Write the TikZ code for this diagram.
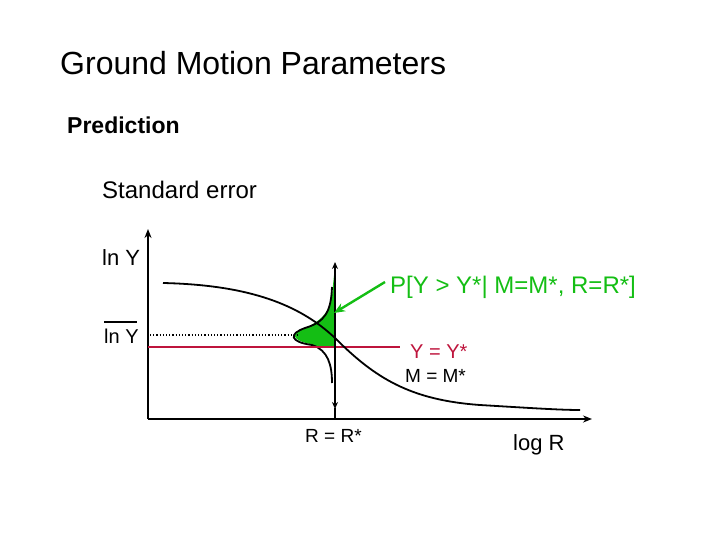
\documentclass[tikz,border=0pt]{standalone}
\usepackage{fontspec}
\usetikzlibrary{arrows.meta}
\setmainfont{Liberation Sans}
\definecolor{grn}{RGB}{20,190,20}
\definecolor{crim}{RGB}{190,20,60}
\begin{document}
\begin{tikzpicture}[x=1pt,y=-1pt,
  lab/.style={inner sep=0pt,anchor=west},
  ln/.style={line width=2pt},
  tip/.style={-{Stealth[length=9pt,width=7pt]}}]
\useasboundingbox (0,0) rectangle (720,540);
\node[lab,font=\fontsize{32}{34}\selectfont] (title) at (60,63) {Ground Motion Parameters};
\node[lab,font=\bfseries\fontsize{23}{26}\selectfont] (pred) at (67,125) {Prediction};
\node[lab,font=\fontsize{24}{26}\selectfont] (se) at (102,190) {Standard error};
\node[lab,font=\fontsize{22}{24}\selectfont] (lny) at (102,258) {ln Y};
\node[lab,font=\fontsize{20}{22}\selectfont] (lnyb) at (104,336) {ln Y};
\draw[line width=1.2pt] (104,322) -- (137,322);
\node[lab,font=\fontsize{24}{26}\selectfont,text=grn] (p) at (390,287) {P[Y > Y*| M=M*, R=R*]};
\node[lab,font=\fontsize{20}{22}\selectfont,text=crim] (yy) at (410,352) {Y = Y*};
\node[lab,font=\fontsize{19}{22}\selectfont] (mm) at (405,376) {M = M*};
\node[lab,font=\fontsize{19}{22}\selectfont] (rr) at (305,436) {R = R*};
\node[lab,font=\fontsize{22}{24}\selectfont] (logr) at (513,445) {log R};
% axes
\coordinate (o) at (148,419);
\coordinate (yt) at (148,229);
\coordinate (xt) at (592,419);
\draw[ln,tip] (o) -- (yt);
\draw[ln,tip] (o) -- (xt);
% fill
\fill[grn] (335,266) -- (333,285) .. controls (332,305) and (328,318) .. (305,328)
  .. controls (290,334) and (292,340) .. (310,344) -- (320,347) -- (335,347) -- cycle;
% pdf outline
\draw[line width=1.8pt] (332,287) .. controls (331,312) and (325,322) .. (305,328)
  .. controls (288,334) and (290,342) .. (312,345)
  .. controls (328,350) and (332,365) .. (332,383);
% dotted and red lines
\draw[line width=1.2pt,dotted] (150,335) -- (300,335);
\draw[crim,line width=1.8pt] (148,347) -- (400,347);
% vertical line
\coordinate (vt) at (335,262);
\coordinate (vb) at (335,419);
\draw[line width=1.3pt,-{Stealth[length=7pt,width=6pt]}] (335,340) -- (vt);
\draw[line width=1.3pt,-{Stealth[length=7pt,width=6pt]}] (335,340) -- (335,409);
\draw[line width=1.3pt] (335,408) -- (vb);
% attenuation curve
\draw[line width=1.8pt] (163,283) .. controls (250,285) and (300,305) .. (335,338)
  .. controls (375,378) and (410,400) .. (480,405) .. controls (530,408) and (560,410) .. (580,410);
% green arrow
\draw[grn,line width=2.4pt,-{Stealth[length=11pt,width=9pt]}] (385,282) -- (334,313);
\end{tikzpicture}
\end{document}
